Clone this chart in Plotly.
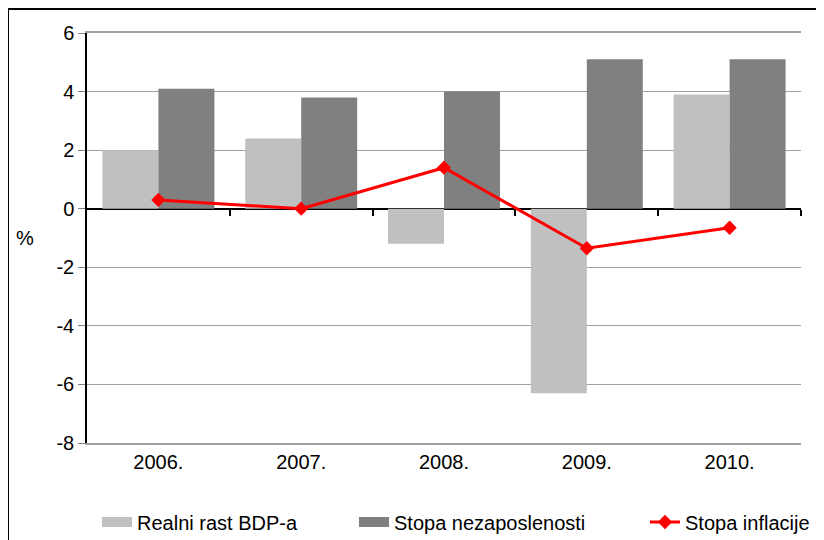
import plotly.graph_objects as go

categories = ["2006.", "2007.", "2008.", "2009.", "2010."]
gdp_growth = [2.0, 2.4, -1.2, -6.3, 3.9]
unemployment = [4.1, 3.8, 4.0, 5.1, 5.1]
inflation = [0.3, 0.0, 1.4, -1.35, -0.65]
y_ticks = [-8, -6, -4, -2, 0, 2, 4, 6]
y_ticktext = ["-8", "-6", "-4", "-2", "0", "2", "4", "6"]

names = ["Realni rast BDP-a", "Stopa nezaposlenosti", "Stopa inflacije"]
FONT = "Liberation Sans, Arial, sans-serif"
FS = 20
W, H = 824, 540
OFF = 8  # page body margin
# target plot area in page pixels: x 87..801, y 33..443
L = 87 - OFF
T = 33 - OFF
R = W - (801 - OFF)
B = H - (443 - OFF)
PW, PH = W - L - R, H - T - B

def px_x(page_x):
    return (page_x - OFF - L) / PW

def px_y(page_y):
    return (H - B - (page_y - OFF)) / PH

xs = list(range(len(categories)))

fig = go.Figure()
fig.add_trace(go.Bar(x=xs, y=gdp_growth, name=names[0], marker_color="#C0C0C0",
                     marker_line_width=0, showlegend=False))
fig.add_trace(go.Bar(x=xs, y=unemployment, name=names[1], marker_color="#808080",
                     marker_line_width=0, showlegend=False))
fig.add_trace(go.Scatter(x=xs, y=inflation, name=names[2], mode="lines+markers",
                         line=dict(color="#FF0000", width=3),
                         marker=dict(symbol="diamond", size=11, color="#FF0000"),
                         legend="legend3"))
# legend swatches for bars
fig.add_trace(go.Scatter(x=[None], y=[None], name=names[0], mode="lines",
                         line=dict(color="#C0C0C0", width=14), legend="legend"))
fig.add_trace(go.Scatter(x=[None], y=[None], name=names[1], mode="lines",
                         line=dict(color="#808080", width=14), legend="legend2"))
# invisible trace for category-boundary tick axis
fig.add_trace(go.Scatter(x=[None], y=[None], xaxis="x2", showlegend=False, hoverinfo="skip"))

legend_common = dict(orientation="h", font=dict(family=FONT, size=FS, color="#000000"),
                     bgcolor="rgba(0,0,0,0)", yanchor="middle", y=px_y(522),
                     xanchor="left", itemwidth=30)

fig.update_layout(
    width=W, height=H,
    margin=dict(l=L, r=R, t=T, b=B, autoexpand=False),
    paper_bgcolor="white", plot_bgcolor="white",
    barmode="group", bargap=0.216, bargroupgap=0,
    font=dict(family=FONT, size=FS, color="#000000"),
    xaxis=dict(range=[-0.5, len(categories) - 0.5], tickvals=xs, ticktext=categories,
               showgrid=False, zeroline=False, showline=True, linecolor="#A0A0A0",
               linewidth=1.5, ticks="",
               mirror=True, tickfont=dict(family=FONT, size=FS)),
    xaxis2=dict(overlaying="x", range=[-0.5, len(categories) - 0.5],
                tickvals=[i + 0.5 for i in xs[:-1]] + [len(categories) - 0.5],
                showticklabels=False, ticks="outside", ticklen=6, tickcolor="#000000",
                tickwidth=1.5, showgrid=False, zeroline=False, showline=False,
                anchor="free", position=8 / 14, side="bottom"),
    yaxis=dict(range=[-8, 6], tickvals=y_ticks, ticktext=y_ticktext,
               showgrid=True, gridcolor="#A0A0A0",
               gridwidth=1, zeroline=True, zerolinecolor="#000000", zerolinewidth=1.5,
               showline=True, linecolor="#000000", linewidth=1.5,
               ticks="outside", ticklen=7, tickcolor="#808080",
               tickfont=dict(family=FONT, size=FS)),
    legend=dict(legend_common, x=px_x(97)),
    legend2=dict(legend_common, x=px_x(354)),
    legend3=dict(legend_common, x=px_x(645)),
    annotations=[dict(text="%", x=px_x(25), y=px_y(238), xref="paper", yref="paper",
                      xanchor="center", yanchor="middle",
                      showarrow=False, font=dict(family=FONT, size=FS))],
    shapes=[
        dict(type="rect", xref="paper", yref="paper", x0=px_x(8), x1=px_x(900),
             y0=px_y(600), y1=px_y(9), line=dict(color="#000000", width=2),
             fillcolor="rgba(0,0,0,0)", layer="below"),
    ],
)

fig.write_html("out.html")
